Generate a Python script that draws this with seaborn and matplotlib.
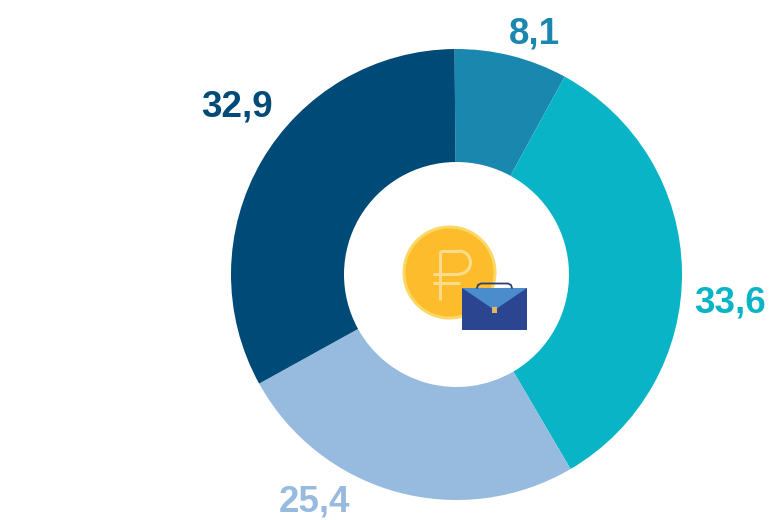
import matplotlib
matplotlib.use("Agg")
import matplotlib.pyplot as plt
import seaborn as sns
from matplotlib.patches import Circle, Rectangle, Polygon, Arc

sns.set_theme(style="white")
plt.rcParams['font.family'] = ['Liberation Sans', 'DejaVu Sans']

# shares, clockwise from the top
values = [8.1, 33.6, 25.4, 32.9]
labels = ["8,1", "33,6", "25,4", "32,9"]
colors = ["#1a87ae", "#08b4c6", "#97badf", "#004a78"]

W, H = 769, 520
fig = plt.figure(figsize=(W / 100, H / 100), dpi=100)
ax = fig.add_axes([0, 0, 1, 1])

cx, cy, r = 456.5, 274.5, 225.5
# y axis is inverted so counterclock=True runs clockwise on screen
ax.pie(values, colors=colors, center=(cx, cy), radius=r, startangle=-90 - 0.5,
       counterclock=True, wedgeprops=dict(width=r - 112.5, linewidth=0), frame=True)
ax.set_xlim(0, W)
ax.set_ylim(H, 0)
ax.set_aspect("equal")
ax.set_xticks([])
ax.set_yticks([])
for s in ax.spines.values():
    s.set_visible(False)

label_pos = [(534, 43.5), (730, 312), (314, 511.5), (237, 117)]
for t, c, (x, y) in zip(labels, colors, label_pos):
    ax.text(x, y, t, color=c, fontsize=26.5, fontweight="bold", ha="center", va="baseline")

# coin
ax.add_patch(Circle((449.5, 272.5), 47, color="#fbd765", lw=0))
ax.add_patch(Circle((449.5, 272.5), 44, color="#fdbc2c", lw=0))
# rouble sign
sign = "#fbdc8c"
ax.plot([440, 440], [251, 300], color=sign, lw=2.2, solid_capstyle="butt")
ax.plot([433, 460], [283, 283], color=sign, lw=2.2, solid_capstyle="butt")
ax.plot([433, 459], [274, 274], color=sign, lw=2.2, solid_capstyle="butt")
ax.plot([440, 459], [251, 251], color=sign, lw=2.2, solid_capstyle="butt")
ax.add_patch(Arc((459, 262.5), 23, 23, theta1=-90, theta2=90, color=sign, lw=2.2))
# briefcase
ax.add_patch(Rectangle((462, 288), 65, 42, color="#2b4590", lw=0))
ax.add_patch(Polygon([(462, 288), (527, 288), (494.5, 310)], color="#4a8ccc", lw=0))
ax.plot([477, 478, 481, 508, 511, 512], [288, 285, 283.5, 283.5, 285, 288], color="#2b3f78", lw=1.3)
ax.add_patch(Rectangle((492, 307), 5, 5.5, color="#e0b860", lw=0))

fig.savefig("out.png", dpi=100)
